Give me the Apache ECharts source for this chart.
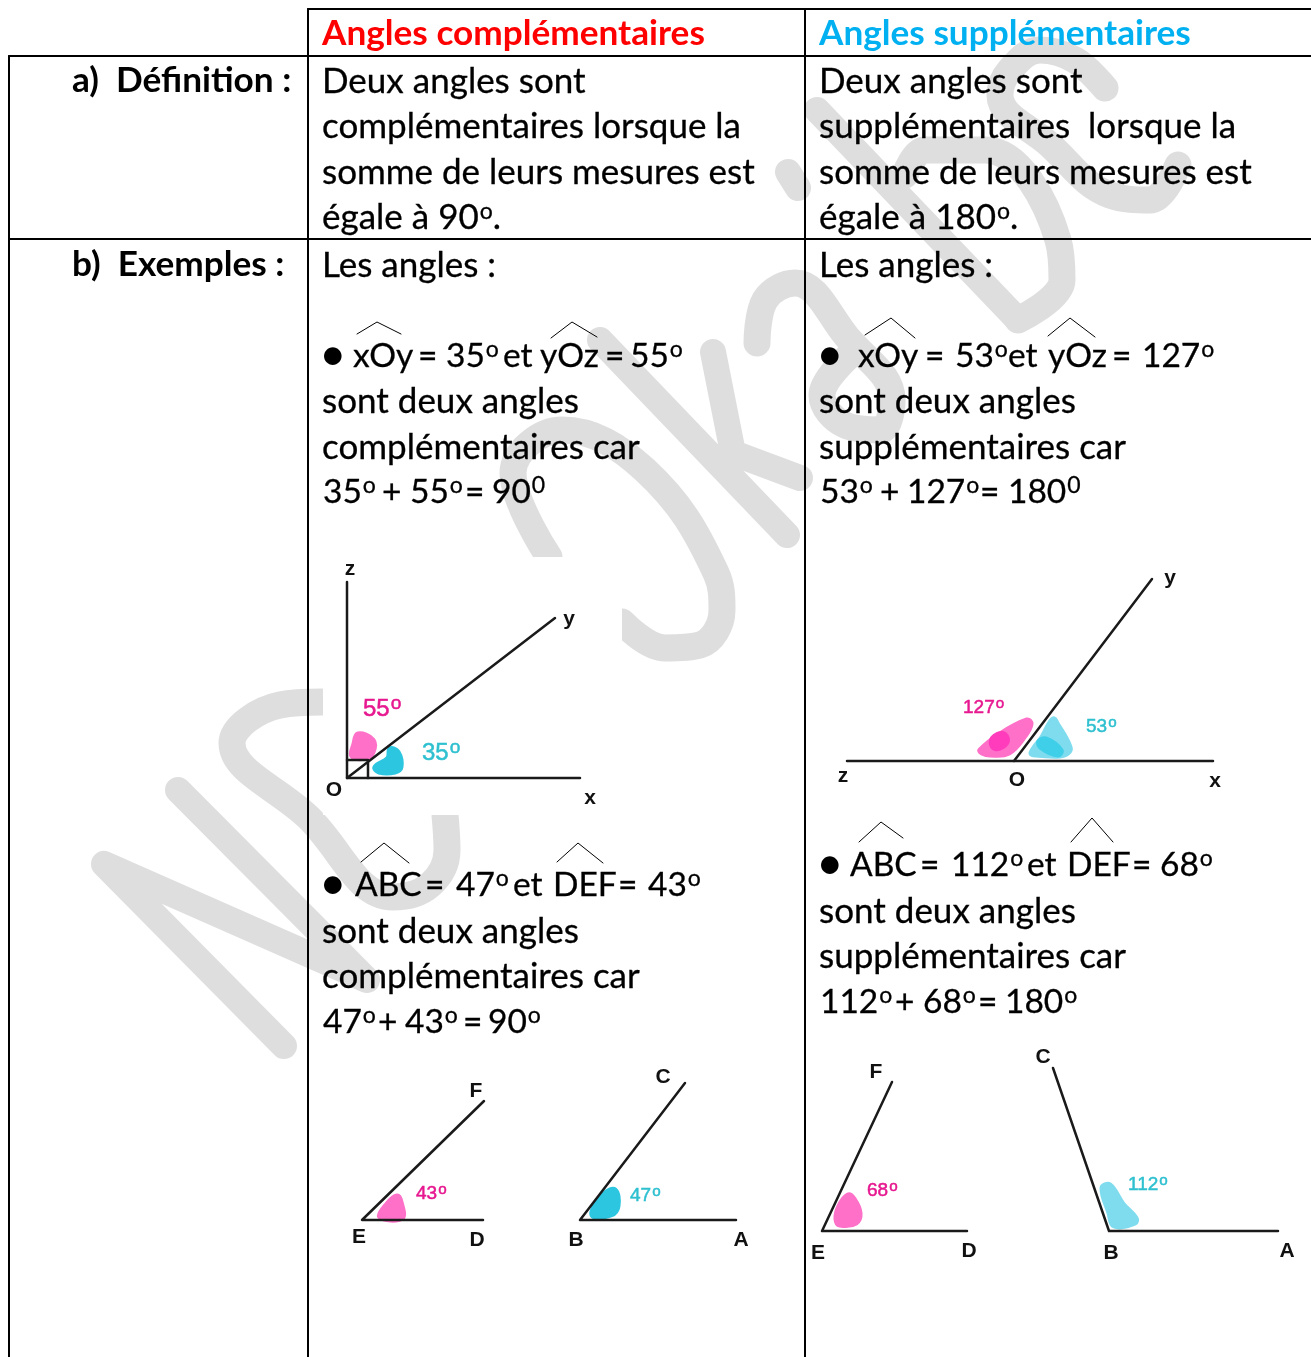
<!DOCTYPE html>
<html>
<head>
<meta charset="utf-8">
<title>Angles</title>
<script src="https://cdn.jsdelivr.net/npm/echarts@6/dist/echarts.min.js"></script>
<style>
html,body{margin:0;padding:0;background:#fff}
#main{width:1311px;height:1357px}
</style>
</head>
<body>
<div id="main"></div>
<script>
// contenu du tableau
var headers = ['Angles complémentaires', 'Angles supplémentaires'];
var rowLabels = ['a)  Définition :', 'b)  Exemples :'];
var defLeft = ['Deux angles sont', 'complémentaires lorsque la', 'somme de leurs mesures est', 'égale à 90º.'];
var defRight = ['Deux angles sont', 'supplémentaires  lorsque la', 'somme de leurs mesures est', 'égale à 180º.'];
var introText = 'Les angles :';
var proseLeft = ['sont deux angles', 'complémentaires car'];
var proseRight = ['sont deux angles', 'supplémentaires car'];

// egalites, mot par mot
var eqL1 = ['xOy', '=', '35º', 'et', 'yOz', '=', '55º'];
var eqL1Sum = ['35º', '+', '55º', '=', '90⁰'];
var eqL2 = ['ABC', '=', '47º', 'et', 'DEF', '=', '43º'];
var eqL2Sum = ['47º', '+', '43º', '=', '90º'];
var eqR1 = ['xOy', '=', '53º', 'et', 'yOz', '=', '127º'];
var eqR1Sum = ['53º', '+', '127º', '=', '180⁰'];
var eqR2 = ['ABC', '=', '112º', 'et', 'DEF', '=', '68º'];
var eqR2Sum = ['112º', '+', '68º', '=', '180º'];

var pinkAngles = [55, 43, 127, 68];
var blueAngles = [35, 47, 53, 112];

// colonnes de chaque mot des egalites
var xL1 = [353, 418, 446, 503, 540, 605, 630];
var xL1Sum = [323, 382, 410, 465, 492];
var xL2 = [355, 425, 456, 513, 553, 618, 648];
var xL2Sum = [323, 378, 405, 463, 488];
var xR1 = [858, 925, 955, 1008, 1048, 1112, 1142];
var xR1Sum = [820, 880, 907, 980, 1008];
var xR2 = [850, 920, 951, 1027, 1067, 1132, 1160];
var xR2Sum = [820, 895, 923, 978, 1005];

// traces, en pixels de la page (axes 0-1311 / 0-1357)
var tableRules = [
  [[308, 9], [308, 1357]], [[805, 9], [805, 1357]], [[9, 56], [9, 1357]],
  [[308, 9], [1311, 9]], [[9, 56], [1311, 56]], [[9, 239], [1311, 239]]
];
var hats = [
  [[357, 334], [377, 322], [401, 334]], [[551, 338], [572, 322], [597, 337]],
  [[865, 335], [891, 318], [915, 338]], [[1048, 336], [1070, 318], [1095, 337]],
  [[361, 862], [384, 843], [409, 863]], [[557, 862], [578, 843], [603, 863]],
  [[859, 842], [881, 822], [903, 838]], [[1071, 842], [1092, 818], [1113, 842]]
];
var rays = [
  [[347, 582], [347, 778], [580, 778]], [[347, 778], [555, 618]],
  [[347, 760], [368, 760], [368, 778]],
  [[847, 761], [1213, 761]], [[1014, 761], [1152, 579]],
  [[484, 1101], [362, 1220], [483, 1220]],
  [[685, 1083], [580, 1220], [736, 1220]],
  [[892, 1082], [822, 1231], [967, 1231]],
  [[1053, 1068], [1109, 1231], [1278, 1231]]
];
var wmStraight = [
  [[284, 1046], [104, 864], [367, 980], [178, 790]],
  [[600, 340], [787, 535]],
  [[713, 352], [733, 453], [800, 478]],
  [[788, 172], [798, 188]],
  [[817, 110], [1018, 320]]
];
var wmCurved = [
  [[322, 702], [280, 705], [232, 743], [308, 817], [393, 897], [430, 885], [447, 850], [445, 815]],
  [[549, 557], [513, 473], [562, 430], [645, 470], [716, 573], [722, 610], [700, 645], [665, 648], [622, 622]],
  [[757, 343], [765, 300], [795, 283], [847, 337], [892, 400], [880, 430], [845, 425], [822, 395], [850, 355]],
  [[1018, 320], [1062, 280], [1058, 240], [985, 150], [925, 150], [905, 175]],
  [[1105, 88], [1075, 60], [1040, 50], [1010, 70], [1000, 95], [1050, 145], [1110, 195], [1150, 200], [1178, 165]]
];
var pinkBlobs = [
  [[358, 734], [373, 740], [373, 752], [366, 758], [352, 756], [354, 744]],
  [[380, 1217], [387, 1204], [397, 1196], [401, 1202], [402, 1218]],
  [[980, 750], [1000, 734], [1027, 720], [1031, 724], [1025, 736], [1009, 753], [990, 755], [982, 753]],
  [[836, 1219], [839, 1206], [848, 1195], [854, 1199], [860, 1213], [856, 1223], [840, 1225]]
];
var tealBlobs = [
  [[390, 749], [398, 752], [401, 767], [395, 772], [379, 772], [375, 767], [388, 758]],
  [[592, 1215], [604, 1194], [615, 1190], [618, 1206], [611, 1215]]
];
var skyBlobs = [
  [[1031, 753], [1042, 737], [1053, 719], [1058, 725], [1070, 747], [1068, 753], [1060, 756], [1035, 755]],
  [[1102, 1188], [1110, 1185], [1123, 1204], [1136, 1218], [1135, 1223], [1114, 1226], [1109, 1213]]
];
var darkPink = [[[992, 738], [1003, 733], [1008, 741], [999, 749], [992, 747]]];
var darkBlue = [[[1038, 741], [1046, 738], [1062, 750], [1058, 756], [1040, 748]]];
var imageMask = [[[323, 557], [622, 557], [622, 815], [323, 815]]];

// lettres des figures
var pointLabels = [
  ['z', 350, 569], ['y', 569, 619], ['O', 334, 790], ['x', 590, 798],
  ['y', 1170, 578], ['z', 843, 776], ['O', 1017, 780], ['x', 1215, 781],
  ['F', 476, 1091], ['E', 359, 1237], ['D', 477, 1240],
  ['C', 663, 1077], ['B', 576, 1240], ['A', 741, 1240],
  ['F', 876, 1072], ['E', 818, 1253], ['D', 969, 1251],
  ['C', 1043, 1057], ['B', 1111, 1253], ['A', 1287, 1251]
];
var pinkLabelPos = [[363, 708, 24], [416, 1193, 19], [963, 707, 19], [867, 1190, 19]];
var blueLabelPos = [[422, 752, 24], [630, 1195, 19], [1086, 726, 19], [1128, 1184, 19]];

var bodyFont = 'Lato';
var proseSize = 35;
var eqSize = 33.5;

function stroke(points, width, color, z, smooth) {
  return {
    type: 'line', data: points, symbol: 'none', silent: true, clip: false, z: z,
    smooth: smooth || false, animation: false,
    lineStyle: { width: width, color: color, cap: 'round', join: 'round' }
  };
}

function blob(polys, color, z, border) {
  return {
    type: 'custom', silent: true, clip: false, z: z, animation: false,
    data: polys.map(function (p, i) { return [i]; }),
    encode: { x: 0 },
    renderItem: function (params, api) {
      var pts = polys[params.dataIndex].map(function (p) { return api.coord(p); });
      return {
        type: 'polygon', shape: { points: pts, smooth: border ? 0.4 : 0 },
        style: { fill: color, stroke: border ? color : null, lineWidth: border || 0, lineJoin: 'round' }
      };
    }
  };
}

// le petit o en exposant passe par un style riche, le texte reste du texte
function richText(name) {
  var parts = name.split(/([º⁰])/);
  return parts.map(function (p) {
    if (p === 'º') return '{s|o}';
    if (p === '⁰') return '{s|0}';
    return p ? '{n|' + p + '}' : '';
  }).join('');
}

function texts(items, font, size, weight, color, z, supSize, thick) {
  var sup = supSize || size * 0.62;
  return {
    type: 'scatter', symbolSize: 0, silent: true, clip: false, z: z, animation: false,
    itemStyle: { opacity: 1 },
    data: items.map(function (t) { return { name: t[0], value: [t[1], t[2]] }; }),
    label: {
      show: true, position: 'right', distance: 0, opacity: 1, offset: [0, 1],
      formatter: function (p) { return richText(p.name); },
      rich: {
        n: { fontFamily: font, fontSize: size, fontWeight: weight, color: color, textBorderColor: color, textBorderWidth: thick || 0 },
        // padding du bas : remonte le o
        s: { fontFamily: font, fontSize: sup, fontWeight: weight, color: color, textBorderColor: color, textBorderWidth: thick || 0, lineHeight: sup * 0.6, padding: [0, 0, sup * 0.6, 1] }
      }
    }
  };
}

function block(lines, x, ys) {
  return lines.map(function (l, i) { return [l, x, ys[i]]; });
}

function eqLine(words, xs, y) {
  return words.map(function (w, i) { return [w, xs[i], y]; });
}

function centered(items, font, size, weight, color, z) {
  return {
    type: 'scatter', symbolSize: 0, silent: true, clip: false, z: z, animation: false,
    itemStyle: { opacity: 1 },
    data: items.map(function (t) { return { name: t[0], value: [t[1], t[2]] }; }),
    label: { show: true, position: 'inside', formatter: '{b}', opacity: 1, fontFamily: font, fontSize: size, fontWeight: weight, color: color }
  };
}

var series = [];

// filigrane
wmStraight.forEach(function (p) { series.push(stroke(p, 26, '#dedede', 1)); });
wmCurved.forEach(function (p) { series.push(stroke(p, 27, '#dedede', 1, 0.4)); });
series.push(blob(imageMask, '#ffffff', 2));

// taches de couleur
series.push(blob(pinkBlobs, '#ff70c8', 3, 5));
series.push(blob(tealBlobs, '#2cc6e0', 3, 5));
series.push(blob(skyBlobs, '#7fdcee', 3, 5));
series.push(blob(darkPink, '#ff3cbc', 4, 4));
series.push(blob(darkBlue, '#3fcfe8', 4, 3));

// figures et tableau
rays.forEach(function (p) { series.push(stroke(p, 2.5, '#1a1a1a', 5)); });
hats.forEach(function (p) { series.push(stroke(p, 1, '#000000', 6)); });
tableRules.forEach(function (p) { series.push(stroke(p, 2, '#000000', 7)); });

// textes du tableau
series.push(texts([[headers[0], 322, 33]], bodyFont, 35.2, 'bold', '#ff0000', 8));
series.push(texts([[headers[1], 819, 33]], bodyFont, 35.2, 'bold', '#00b0f0', 8));
series.push(texts([[rowLabels[0], 72, 80], [rowLabels[1], 72, 264]], bodyFont, 35.2, 'bold', '#000000', 8));

var prose = []
  .concat(block(defLeft, 322, [81, 126, 172, 217]))
  .concat(block(defRight, 819, [81, 126, 172, 217]))
  .concat([[introText, 322, 265], [introText, 819, 265]])
  .concat(block(proseLeft, 322, [401, 447])).concat(block(proseLeft, 322, [931, 976]))
  .concat(block(proseRight, 819, [401, 447])).concat(block(proseRight, 819, [911, 956]));
series.push(texts(prose, bodyFont, proseSize, 'normal', '#000000', 8, 23, 0.3));

var equations = []
  .concat(eqLine(eqL1, xL1, 355)).concat(eqLine(eqL1Sum, xL1Sum, 491))
  .concat(eqLine(eqL2, xL2, 884)).concat(eqLine(eqL2Sum, xL2Sum, 1021))
  .concat(eqLine(eqR1, xR1, 355)).concat(eqLine(eqR1Sum, xR1Sum, 491))
  .concat(eqLine(eqR2, xR2, 864)).concat(eqLine(eqR2Sum, xR2Sum, 1001));
series.push(texts(equations, bodyFont, eqSize, 'normal', '#000000', 8, 23, 0.3));

var bullets = [['●', 322, 354], ['●', 322, 883], ['●', 819, 354], ['●', 819, 863]];
series.push(texts(bullets, bodyFont, 36, 'normal', '#000000', 8));

// libelles des figures
series.push(centered(pointLabels, 'Liberation Sans', 21, 'bold', '#111111', 8));
pinkLabelPos.forEach(function (p, i) {
  series.push(texts([[pinkAngles[i] + 'º', p[0], p[1]]], 'Liberation Sans', p[2], 'normal', '#e6178f', 8, p[2] * 0.8, 0.5));
});
blueLabelPos.forEach(function (p, i) {
  series.push(texts([[blueAngles[i] + 'º', p[0], p[1]]], 'Liberation Sans', p[2], 'normal', '#2fc0d0', 8, p[2] * 0.8, 0.5));
});

var myChart = echarts.init(document.getElementById('main'), null, { renderer: 'canvas' });
myChart.setOption({
  animation: false,
  backgroundColor: '#ffffff',
  grid: { left: 0, right: 0, top: 0, bottom: 0 },
  xAxis: { type: 'value', min: 0, max: 1311, show: false },
  yAxis: { type: 'value', min: 0, max: 1357, inverse: true, show: false },
  tooltip: { show: false },
  legend: { show: false },
  series: series
});
</script>
</body>
</html>
